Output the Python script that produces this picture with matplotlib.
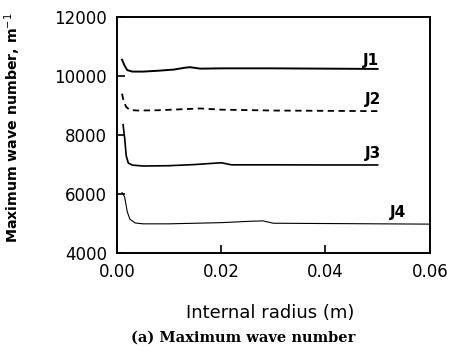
import matplotlib
matplotlib.use("Agg")
import matplotlib.pyplot as plt

x_j1 = [0.0010, 0.0015, 0.0020, 0.0030, 0.0050, 0.0080, 0.0110, 0.0130, 0.0140, 0.0160, 0.0200, 0.0300, 0.0400, 0.0500]
y_j1 = [10550, 10350, 10200, 10150, 10150, 10180, 10220, 10280, 10300, 10250, 10260, 10260, 10250, 10240]

x_j2 = [0.0010, 0.0013, 0.0018, 0.0025, 0.0040, 0.0080, 0.0120, 0.0160, 0.0200, 0.0300, 0.0400, 0.0500]
y_j2 = [9400, 9150, 8950, 8850, 8830, 8840, 8870, 8900, 8860, 8830, 8820, 8810]

x_j3 = [0.0012, 0.0015, 0.0018, 0.0022, 0.0030, 0.0050, 0.0100, 0.0150, 0.0200, 0.0220, 0.0300, 0.0400, 0.0500]
y_j3 = [8350, 7900, 7300, 7050, 6980, 6950, 6960, 7000, 7060, 6990, 6990, 6985, 6985]

x_j4 = [0.0010, 0.0015, 0.0020, 0.0025, 0.0035, 0.0050, 0.0100, 0.0200, 0.0260, 0.0280, 0.0300, 0.0400, 0.0500, 0.0600]
y_j4 = [6050, 5900, 5400, 5150, 5020, 4990, 4990, 5030, 5080, 5090, 5010, 5000, 4990, 4980]

labels = ["J1", "J2", "J3", "J4"]
label_x = [0.0472, 0.0475, 0.0475, 0.0523]
label_y = [10540, 9190, 7390, 5360]

fig = plt.figure(figsize=(4.51, 3.62), dpi=100)
ax = fig.add_axes([0.259, 0.301, 0.694, 0.652])

ax.plot(x_j1, y_j1, color="black", lw=1.4)
ax.plot(x_j2, y_j2, color="black", lw=1.3, linestyle=(0, (3.5, 2.5)))
ax.plot(x_j3, y_j3, color="black", lw=1.2)
ax.plot(x_j4, y_j4, color="black", lw=0.8)

for t, lx, ly in zip(labels, label_x, label_y):
    ax.text(lx, ly, t, fontsize=11, ha="left", va="center", fontweight="bold")

ax.set_xlim(0, 0.06)
ax.set_ylim(4000, 12000)
ax.set_xticks([0.0, 0.02, 0.04, 0.06])
ax.set_xticklabels(["0.00", "0.02", "0.04", "0.06"])
ax.set_yticks([4000, 6000, 8000, 10000, 12000])
ax.tick_params(direction="in", length=6, width=1.2, labelsize=12, pad=7)
for s in ax.spines.values():
    s.set_linewidth(1.4)

ax.set_xlabel("Internal radius (m)", fontsize=13)
ax.xaxis.set_label_coords(0.489, -0.215)
ax.set_ylabel("Maximum wave number, m$^{-1}$", fontsize=10.2, fontweight="bold")
ax.yaxis.set_label_coords(-0.30, 0.53)

fig.text(0.54, 0.068, "(a) Maximum wave number", fontsize=10.5, family="DejaVu Serif",
         fontweight="bold", ha="center", va="center")

fig.savefig("out.png", dpi=100)
